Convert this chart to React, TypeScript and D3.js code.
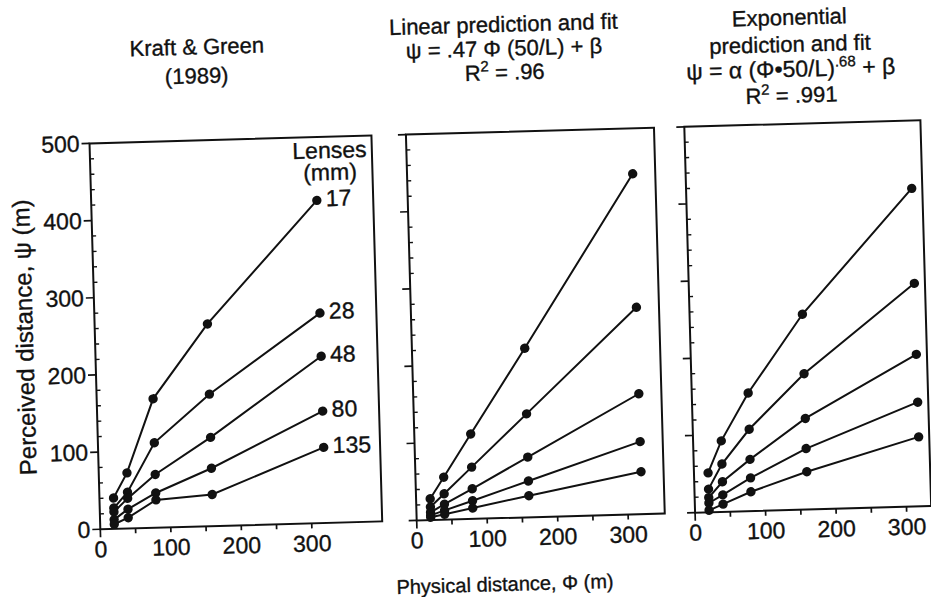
import React from "react";
import * as d3 from "d3";

// ---------- data ----------
const distances = [20, 40, 80, 160, 320]; // physical distance Φ (m)
const lenses = ["17", "28", "48", "80", "135"]; // focal length (mm)

// Kraft & Green (1989): perceived distance ψ (m), one row per lens
const kraftGreen17 = [40, 72, 167, 262, 418];
const kraftGreen28 = [27, 47, 110, 171, 272];
const kraftGreen48 = [22, 39, 69, 115, 216];
const kraftGreen80 = [12, 25, 45, 75, 145];
const kraftGreen135 = [6, 14, 36, 41, 98];

// Linear prediction and fit
const linear17 = [27.5, 55, 110, 219, 441];
const linear28 = [17, 33.5, 67, 134, 268];
const linear48 = [10, 20, 39, 78, 156];
const linear80 = [6, 12, 23.5, 47, 94];
const linear135 = [3.5, 7, 14, 28, 55];

// Exponential prediction and fit
const expo17 = [51, 92, 153, 253, 412];
const expo28 = [30, 62, 106, 176, 289];
const expo48 = [19, 39, 67, 118, 197];
const expo80 = [12, 22, 43, 79, 135];
const expo135 = [2.5, 10, 25, 49, 90];

const yTickValues = [0, 100, 200, 300, 400, 500];
const xTickLabelValues = [0, 100, 200, 300];

// ---------- layout ----------
const W = 931;
const H = 597;
const FONT = "'Liberation Sans', Arial, Helvetica, sans-serif";
const INK = "#111";
const TEXT_STROKE = 0.35;
const PX_PER_UNIT = 0.705;
const Y_BOTTOM = 519;
const Y_TOP = 133;

const panelLayouts = [
  { key: "kg", left: 94, xMax: 400, series: [kraftGreen17, kraftGreen28, kraftGreen48, kraftGreen80, kraftGreen135], yLabels: true, lensLabels: true },
  { key: "lin", left: 410.5, xMax: 352, series: [linear17, linear28, linear48, linear80, linear135], yLabels: false, lensLabels: false },
  { key: "exp", left: 689, xMax: 335, series: [expo17, expo28, expo48, expo80, expo135], yLabels: false, lensLabels: false },
];

type PanelProps = {
  left: number;
  xMax: number;
  series: number[][];
  yLabels: boolean;
  lensLabels: boolean;
};

function Panel({ left, xMax, series, yLabels, lensLabels }: PanelProps) {
  const x = d3.scaleLinear().domain([0, xMax]).range([left, left + xMax * PX_PER_UNIT]);
  const y = d3.scaleLinear().domain([0, 500]).range([Y_BOTTOM, Y_TOP]);
  const line = d3
    .line<number>()
    .x((_, i) => x(distances[i]))
    .y((d) => y(d));
  const minorY = d3.range(20, 500, 20).filter((v) => v % 100 !== 0);
  const xTicks = d3.range(0, 301, 50);
  const textProps = { fontSize: 23, fontFamily: FONT, fill: INK, stroke: INK, strokeWidth: TEXT_STROKE };
  return (
    <g>
      {/* frame */}
      <rect
        x={x(0)}
        y={y(500)}
        width={x(xMax) - x(0)}
        height={y(0) - y(500)}
        fill="none"
        stroke={INK}
        strokeWidth={2}
      />
      {/* y ticks */}
      {yTickValues.map((v) => (
        <line key={"ym" + v} x1={x(0) - 8} x2={x(0)} y1={y(v)} y2={y(v)} stroke={INK} strokeWidth={1.7} />
      ))}
      {minorY.map((v) => (
        <line key={"yn" + v} x1={x(0)} x2={x(0) + 4} y1={y(v)} y2={y(v)} stroke={INK} strokeWidth={1.4} />
      ))}
      {/* x ticks */}
      {xTicks.map((v) => (
        <line key={"xt" + v} x1={x(v)} x2={x(v)} y1={y(0)} y2={y(0) + (v === 0 ? 8 : 5)} stroke={INK} strokeWidth={1.7} />
      ))}
      {xTickLabelValues.map((v) => (
        <text key={"xl" + v} x={x(v)} y={y(0) + 28} textAnchor="middle" {...textProps}>
          {v}
        </text>
      ))}
      {yLabels &&
        yTickValues.map((v) => (
          <text key={"yl" + v} x={x(0) - 10} y={y(v) + 8} textAnchor="end" {...textProps}>
            {v}
          </text>
        ))}
      {/* series */}
      {series.map((vals, si) => (
        <g key={"s" + si}>
          <path d={line(vals) || ""} fill="none" stroke={INK} strokeWidth={2} />
          {vals.map((v, i) => (
            <circle key={i} cx={x(distances[i])} cy={y(v)} r={4.7} fill={INK} />
          ))}
          {lensLabels && (
            <text x={x(distances[distances.length - 1]) + 9} y={y(vals[vals.length - 1]) + 6} {...textProps}>
              {lenses[si]}
            </text>
          )}
        </g>
      ))}
      {lensLabels && (
        <g textAnchor="middle">
          <text x={x(distances[4]) + 14} y={y(series[0][4]) - 42} {...textProps}>Lenses</text>
          <text x={x(distances[4]) + 14} y={y(series[0][4]) - 20} {...textProps}>(mm)</text>
        </g>
      )}
    </g>
  );
}

export default function App() {
  return (
    <div style={{ position: "absolute", left: 0, top: 0, width: W, height: H, background: "#fff" }}>
      <svg width={W} height={H} viewBox={`0 0 ${W} ${H}`} style={{ display: "block" }}>
        <rect width={W} height={H} fill="#fff" />
        <g transform="rotate(-1.6 465 298)">
          {panelLayouts.map((p) => (
            <Panel key={p.key} left={p.left} xMax={p.xMax} series={p.series} yLabels={p.yLabels} lensLabels={p.lensLabels} />
          ))}

          {/* titles */}
          <g fontFamily={FONT} fontSize={22} fill={INK} stroke={INK} strokeWidth={TEXT_STROKE} textAnchor="middle">
            <text x={204} y={47}>Kraft &amp; Green</text>
            <text x={203} y={76}>(1989)</text>

            <text x={511} y={33}>Linear prediction and fit</text>
            <text x={511} y={57}>ψ = .47 Φ (50/L) + β</text>
            <text x={511} y={81}>
              R<tspan dy={-9} fontSize={15}>2</tspan>
              <tspan dy={9}> = .96</tspan>
            </text>

            <text x={797} y={34}>Exponential</text>
            <text x={797} y={61}>prediction and fit</text>
            <text x={797} y={86} fontSize={23}>
              ψ = α (Φ•50/L)<tspan dy={-9} fontSize={15}>.68</tspan>
              <tspan dy={9}> + β</tspan>
            </text>
            <text x={797} y={112}>
              R<tspan dy={-9} fontSize={15}>2</tspan>
              <tspan dy={9}> = .991</tspan>
            </text>
          </g>

          {/* axis titles */}
          <text
            x={497}
            y={592}
            textAnchor="middle"
            fontFamily={FONT}
            fontSize={20}
            fill={INK}
            stroke={INK}
            strokeWidth={TEXT_STROKE}
          >
            Physical distance, Φ (m)
          </text>
          <text
            transform="translate(32 325) rotate(-90)"
            textAnchor="middle"
            fontFamily={FONT}
            fontSize={24}
            fill={INK}
            stroke={INK}
            strokeWidth={TEXT_STROKE}
          >
            Perceived distance, ψ (m)
          </text>
        </g>
      </svg>
    </div>
  );
}
